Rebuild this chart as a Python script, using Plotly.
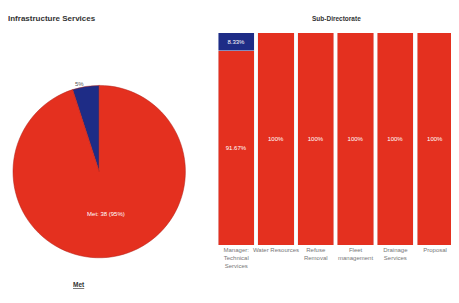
import plotly.graph_objects as go

pie_labels = ["Not Met", "Met"]
pie_values = [2, 38]
pie_text = ["5%", "Met: 38 (95%)"]

categories = ["Manager:<br>Technical<br>Services", "Water Resources", "Refuse<br>Removal",
              "Fleet<br>management", "Drainage<br>Services", "Proposal"]
not_met_pct = [8.33, 0, 0, 0, 0, 0]
met_pct = [91.67, 100, 100, 100, 100, 100]

RED = "#E4301F"
BLUE = "#1E2C86"

fig = go.Figure()
fig.add_trace(go.Pie(
    labels=pie_labels, values=pie_values, sort=False, direction="clockwise", rotation=-18,
    marker=dict(colors=[BLUE, RED], line=dict(color="#B02018", width=0.5)),
    text=pie_text, texttemplate="%{text}", textposition=["outside", "inside"],
    textfont=dict(size=6, color=["#555555", "white"]),
    insidetextorientation="horizontal",
    domain=dict(x=[0.0, 0.39], y=[0.10, 0.76]), showlegend=False,
))

fig.add_trace(go.Bar(
    x=categories, y=met_pct, marker=dict(color=RED),
    text=[f"{v:g}%" for v in met_pct], textposition="inside", insidetextanchor="middle",
    textfont=dict(size=6, color="white"), showlegend=False,
))
fig.add_trace(go.Bar(
    x=categories, y=not_met_pct, marker=dict(color=BLUE),
    text=[f"{v:g}%" if v else "" for v in not_met_pct], textposition="inside",
    insidetextanchor="middle", textfont=dict(size=6, color="white"), showlegend=False,
))

fig.update_layout(
    width=447, height=287, margin=dict(l=0, r=0, t=0, b=0),
    paper_bgcolor="white", plot_bgcolor="white",
    barmode="stack", bargap=0.09,
    font=dict(family="Liberation Sans Narrow, Liberation Sans, sans-serif"),
    xaxis=dict(domain=[0.46, 1.0], showgrid=False, showline=False, ticks="",
               tickfont=dict(size=6, color="#777777"), tickangle=0),
    yaxis=dict(domain=[0.174, 0.913], range=[0, 100], visible=False),
    uniformtext=dict(minsize=4, mode="show"),
    annotations=[
        dict(text="<b>Infrastructure Services</b>", x=-0.015, y=0.965, xref="paper", yref="paper",
             xanchor="left", yanchor="middle", showarrow=False,
             font=dict(size=8, color="#333333")),
        dict(text="<b>Sub-Directorate</b>", x=0.732, y=0.965, xref="paper", yref="paper",
             xanchor="center", yanchor="middle", showarrow=False,
             font=dict(size=6.5, color="#333333")),
        dict(text="<b><u>Met</u></b>", x=0.15, y=0.035, xref="paper", yref="paper",
             xanchor="center", yanchor="middle", showarrow=False,
             font=dict(size=6.5, color="#333333")),
    ],
)

fig.write_html("out.html")
